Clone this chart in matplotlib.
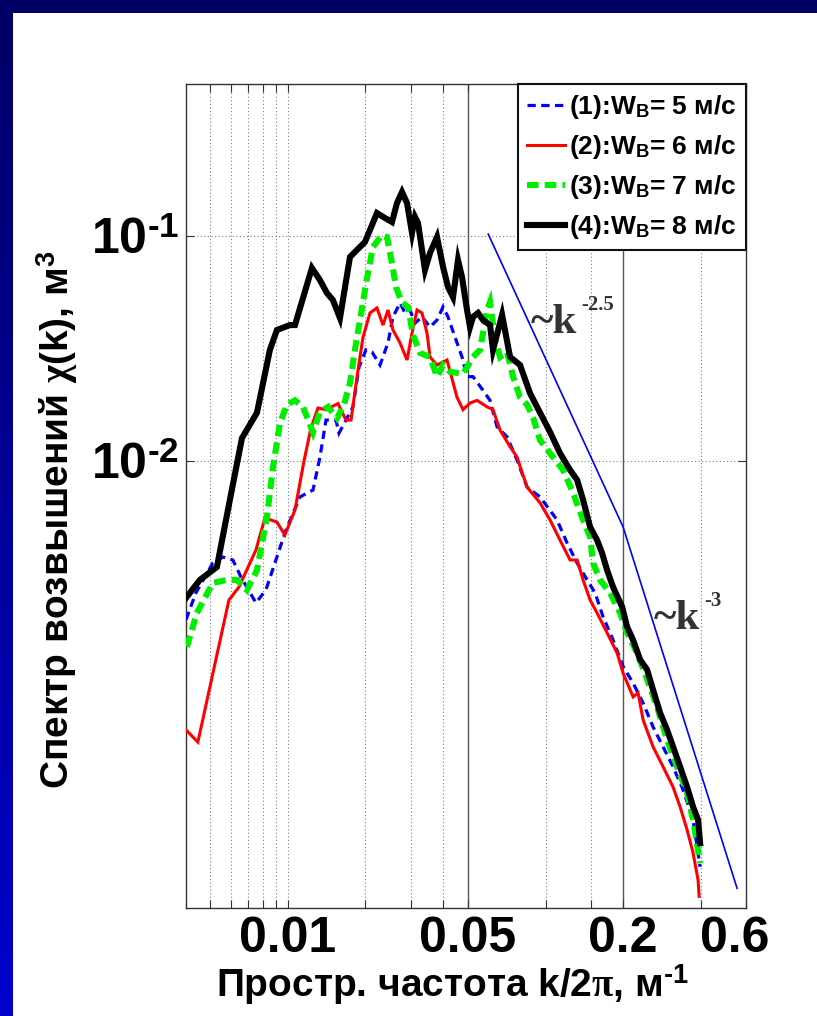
import numpy as np
import matplotlib
matplotlib.use("Agg")
import matplotlib.pyplot as plt
from matplotlib.lines import Line2D
from matplotlib.patches import Rectangle
from matplotlib.colors import LinearSegmentedColormap
from matplotlib.transforms import ScaledTranslation

# ---- spectra, wave number k/2pi [1/m] vs elevation spectrum [m^3] ----
k_w5 = [0.00402, 0.00439, 0.00511, 0.00559, 0.00611, 0.00657, 0.00751, 0.00821, 0.00898, 0.00982,
        0.01113, 0.01251, 0.01331, 0.01405, 0.01536, 0.01578, 0.01680, 0.01788, 0.01887, 0.02009,
        0.02120, 0.02277, 0.02445, 0.02557, 0.02723, 0.02847, 0.02978, 0.03114, 0.03314, 0.0356,
        0.0379, 0.0400, 0.04182, 0.04452, 0.04739, 0.04956, 0.05229, 0.05719, 0.06088, 0.0648,
        0.07088, 0.0775, 0.08475, 0.0952, 0.1108, 0.1212, 0.1326, 0.1450, 0.1557, 0.1672,
        0.1829, 0.2000, 0.2187, 0.2391, 0.2615, 0.2860, 0.3127, 0.3420, 0.3739, 0.3981]
s_w5 = [0.00197, 0.00259, 0.00352, 0.00374, 0.00363, 0.00305, 0.00234, 0.00267, 0.00363, 0.00493,
        0.00692, 0.00743, 0.0104, 0.0152, 0.0152, 0.0133, 0.0152, 0.0174, 0.0261, 0.0312,
        0.0305, 0.0267, 0.0335, 0.0437, 0.0504, 0.0455, 0.0469, 0.0410, 0.0437, 0.0394,
        0.0423, 0.0484, 0.0437, 0.0355, 0.0290, 0.0237, 0.0237, 0.0206, 0.0186, 0.0142,
        0.0128, 0.0101, 0.00766, 0.00692, 0.00547, 0.00432, 0.00352, 0.00296, 0.00259, 0.00203,
        0.00160, 0.00122, 0.00103, 0.000840, 0.000657, 0.000536, 0.000437, 0.000345, 0.000254, 0.000157]

k_w6 = [0.00402, 0.00447, 0.00590, 0.00645, 0.00751, 0.00814, 0.00906, 0.00973, 0.01065, 0.01154,
        0.01228, 0.01308, 0.01405, 0.01564, 0.01680, 0.01757, 0.01870, 0.01956, 0.02082, 0.02216,
        0.02339, 0.02445, 0.02557, 0.02723, 0.02899, 0.03031, 0.03170, 0.03314, 0.03466, 0.0356,
        0.0379, 0.04145, 0.04531, 0.04782, 0.05091, 0.0542, 0.05927, 0.06253, 0.0666, 0.0728,
        0.0775, 0.08475, 0.0952, 0.1041, 0.1138, 0.1245, 0.1326, 0.1399, 0.1489, 0.1585,
        0.1734, 0.1896, 0.2000, 0.2187, 0.2287, 0.2391, 0.2615, 0.2860, 0.3127, 0.3330,
        0.3544, 0.3739, 0.3910, 0.3946]
s_w6 = [0.000637, 0.000563, 0.00241, 0.00275, 0.00402, 0.00558, 0.00535, 0.00469, 0.00606, 0.00998,
        0.0140, 0.0172, 0.0169, 0.0180, 0.0152, 0.0152, 0.0253, 0.0355, 0.0455, 0.0479,
        0.0402, 0.0469, 0.0382, 0.0335, 0.0281, 0.0370, 0.0469, 0.0455, 0.0370, 0.0290,
        0.0267, 0.0281, 0.0192, 0.0169, 0.0181, 0.0186, 0.0174, 0.0169, 0.0137, 0.01158,
        0.0104, 0.00766, 0.00651, 0.00547, 0.00445, 0.00363, 0.00363, 0.00296, 0.00241, 0.00211,
        0.00172, 0.00140, 0.00114, 0.000894, 0.000931, 0.000707, 0.000536, 0.000437, 0.000355, 0.000290,
        0.000229, 0.000181, 0.000137, 0.000116]

k_w7 = [0.00405, 0.00443, 0.00511, 0.00580, 0.00634, 0.00693, 0.00758, 0.00829, 0.00875, 0.00931,
        0.00991, 0.01065, 0.01144, 0.01251, 0.01331, 0.01430, 0.01550, 0.01650, 0.01741, 0.01820,
        0.01904, 0.02027, 0.02138, 0.02317, 0.02424, 0.02534, 0.02627, 0.02772, 0.02924, 0.03059,
        0.03256, 0.03560, 0.03790, 0.0400, 0.04257, 0.04782, 0.05229, 0.05568, 0.05927, 0.06088,
        0.06367, 0.0666, 0.07088, 0.07478, 0.07961, 0.08475, 0.08942, 0.0952, 0.1041, 0.1169,
        0.1279, 0.1399, 0.1489, 0.1529, 0.1628, 0.1780, 0.1947, 0.2073, 0.2266, 0.2479,
        0.2710, 0.2964, 0.3241, 0.3544, 0.3739, 0.3981]
s_w7 = [0.00149, 0.00211, 0.00287, 0.00296, 0.00296, 0.00267, 0.00327, 0.00564, 0.00940, 0.0147,
        0.0178, 0.0186, 0.0174, 0.0134, 0.0165, 0.0174, 0.0155, 0.0178, 0.0222, 0.0312,
        0.0423, 0.0651, 0.0894, 0.1010, 0.0990, 0.0759, 0.0593, 0.0504, 0.0484, 0.0363,
        0.0302, 0.0290, 0.0237, 0.0267, 0.0249, 0.0244, 0.0290, 0.0312, 0.0469, 0.0509,
        0.0345, 0.0290, 0.0305, 0.0237, 0.0192, 0.0178, 0.0156, 0.01238, 0.01083, 0.00912,
        0.00721, 0.00547, 0.00459, 0.00352, 0.00296, 0.00259, 0.00211, 0.00172, 0.00140, 0.00107,
        0.000807, 0.000575, 0.000437, 0.000335, 0.000254, 0.000163]

k_w8 = [0.00402, 0.00455, 0.00530, 0.00595, 0.00663, 0.00758, 0.00851, 0.00906, 0.01018, 0.01065,
        0.01239, 0.01331, 0.01417, 0.01495, 0.01592, 0.01741, 0.01853, 0.01991, 0.02216, 0.02381,
        0.02534, 0.02650, 0.02772, 0.02899, 0.03031, 0.03114, 0.03198, 0.03404, 0.03560, 0.03790,
        0.04000, 0.04182, 0.04373, 0.04573, 0.04739, 0.04956, 0.05091, 0.05229, 0.05469, 0.05719,
        0.06088, 0.06253, 0.06781, 0.07280, 0.07961, 0.08706, 0.09268, 0.1041, 0.1138, 0.1245,
        0.1326, 0.1399, 0.1489, 0.1585, 0.1657, 0.1734, 0.1829, 0.1982, 0.2073, 0.2187,
        0.2328, 0.2479, 0.2615, 0.2784, 0.2964, 0.3127, 0.3330, 0.3544, 0.3739, 0.3910,
        0.3981]
s_w8 = [0.00246, 0.00296, 0.00338, 0.00671, 0.01264, 0.01639, 0.0312, 0.0382, 0.0402, 0.0402,
        0.0721, 0.0637, 0.0558, 0.0519, 0.0432, 0.0807, 0.0867, 0.0941, 0.1265, 0.1202,
        0.1154, 0.1401, 0.1569, 0.1401, 0.1031, 0.1215, 0.1142, 0.0707, 0.0840, 0.0990,
        0.0729, 0.0593, 0.0535, 0.0782, 0.0657, 0.0469, 0.0394, 0.0437, 0.0455, 0.0423,
        0.0402, 0.0312, 0.0446, 0.0290, 0.0267, 0.0200, 0.0174, 0.01345, 0.01083, 0.00912,
        0.00824, 0.00671, 0.00509, 0.00445, 0.00390, 0.00327, 0.00275, 0.00225, 0.00183, 0.00160,
        0.00131, 0.00118, 0.000960, 0.000759, 0.000637, 0.000536, 0.000437, 0.000355, 0.000290, 0.000254,
        0.000200]

# power-law guide line (~k^-2.5, then ~k^-3)
k_guide = [0.0599, 0.200, 0.554]
s_guide = [0.102, 0.00509, 0.000126]

legend_labels = ["(1):W$_{\\mathrm{В}}$= 5 м/с", "(2):W$_{\\mathrm{В}}$= 6 м/с",
                 "(3):W$_{\\mathrm{В}}$= 7 м/с", "(4):W$_{\\mathrm{В}}$= 8 м/с"]

x_ticks = [0.005, 0.006, 0.007, 0.008, 0.009, 0.01, 0.02, 0.03, 0.04, 0.05,
           0.1, 0.15, 0.2, 0.4, 0.6]
x_tick_text = {0.01: "0.01", 0.05: "0.05", 0.2: "0.2", 0.6: "0.6"}
y_ticks = [0.01, 0.1]
y_tick_text = ["$10^{\u20102}$", "$10^{\u20101}$"]

# ---- fonts ----
SANS = "Liberation Sans"
SERIF = "Liberation Serif"
plt.rcParams["font.family"] = [SANS, "DejaVu Sans"]
plt.rcParams["font.weight"] = "bold"
plt.rcParams["mathtext.fontset"] = "custom"
plt.rcParams["mathtext.rm"] = SANS + ":bold"
plt.rcParams["mathtext.bf"] = SANS + ":bold"
plt.rcParams["mathtext.sf"] = SANS + ":bold"
plt.rcParams["mathtext.it"] = SERIF

W, H = 817, 1016
fig = plt.figure(figsize=(W / 100, H / 100), dpi=100)
fig.patch.set_facecolor("white")


def fx(px):
    return px / W


def fy(py):
    return 1 - py / H


# slide frame: gradient bar on the left, dark bar on top
bar_ax = fig.add_axes([0, 0, fx(13), 1])
grad = np.linspace(0, 1, 256).reshape(-1, 1)
cmap = LinearSegmentedColormap.from_list("frame", ["#000066", "#0000cc"])
bar_ax.imshow(grad, aspect="auto", cmap=cmap, extent=[0, 1, 0, 1], origin="upper")
bar_ax.axis("off")
fig.patches.append(Rectangle((0, fy(13)), 1, 13 / H, transform=fig.transFigure,
                             facecolor="#000066", edgecolor="none", zorder=5))

ax = fig.add_axes([fx(186), fy(908), fx(746) - fx(186), fy(84) - fy(908)])
ax.set_xscale("log")
ax.set_yscale("log")
ax.set_xlim(0.00402, 0.6)
ax.set_ylim(1.03e-4, 0.474)

# grid
for xv in x_ticks:
    if xv in (0.05, 0.2):
        ax.axvline(xv, color="#555555", lw=1.0, zorder=1)
    elif xv < 0.6:
        ax.axvline(xv, color="#808080", lw=0.8, ls=(0, (1, 2.2)), zorder=1)
for yv in y_ticks:
    ax.axhline(yv, color="#808080", lw=0.8, ls=(0, (1, 2.2)), zorder=1)

styles = [
    dict(color="#0000ff", lw=2.3, dashes=(2.6, 1.7)),
    dict(color="#ff0000", lw=2.2, ls="-"),
    dict(color="#00ee00", lw=4.4, dashes=(1.9, 1.0)),
    dict(color="#000000", lw=4.4, ls="-"),
]
series = [(k_w5, s_w5), (k_w6, s_w6), (k_w7, s_w7), (k_w8, s_w8)]
handles = []
for (kk, ss), st in zip(series, styles):
    ax.plot(kk, ss, solid_joinstyle="miter", dash_joinstyle="miter", zorder=3, **st)
    handles.append(Line2D([], [], **st))

ax.plot(k_guide, s_guide, color="#0000ff", lw=1.2, zorder=4)

ax.set_xticks(x_ticks)
ax.set_xticklabels([x_tick_text.get(v, "") for v in x_ticks])
ax.set_yticks(y_ticks)
ax.set_yticklabels(y_tick_text)
ax.xaxis.set_minor_locator(matplotlib.ticker.NullLocator())
ax.yaxis.set_minor_locator(matplotlib.ticker.NullLocator())
ax.tick_params(axis="both", which="major", direction="in", length=6, width=0.8,
               top=True, right=True, color="#333333")
ax.tick_params(axis="x", labelsize=36, pad=6)
ax.tick_params(axis="y", labelsize=36, pad=5)
for lab in ax.get_xticklabels():
    if lab.get_text() == "0.6":
        lab.set_transform(lab.get_transform() + ScaledTranslation(-11 / 100, 0, fig.dpi_scale_trans))
for sp in ax.spines.values():
    sp.set_color("#333333")
    sp.set_linewidth(1.0)

leg = ax.legend(handles, legend_labels, loc="upper right", bbox_to_anchor=(1.0, 1.0),
                borderaxespad=0, fancybox=False, framealpha=1, edgecolor="#111111",
                prop={"family": SANS, "weight": "bold", "size": 19},
                handlelength=1.45, handletextpad=0.15, labelspacing=0.45, borderpad=0.35)
leg.get_frame().set_linewidth(1.5)

# slope annotations
for (x0, y0, sup) in [(531, 333, "-2.5"), (654, 629, "-3")]:
    fig.text(fx(x0), fy(y0), "~k", family=SERIF, fontsize=31, color="#333333",
             ha="left", va="baseline")
    fig.text(fx(x0 + 50), fy(y0 - 23), sup, family=SERIF, fontsize=15, color="#333333",
             ha="left", va="baseline")

# axis titles
fig.text(fx(57), fy(520), "Спектр возвышений $\\chi$(k), м$^{3}$", rotation=90,
         ha="center", va="center", fontsize=28, fontweight="bold")
fig.text(fx(452), fy(985), "Простр. частота k/2$\\pi$, м$^{\u20101}$",
         ha="center", va="center", fontsize=28, fontweight="bold")

fig.savefig("out.png", dpi=100)
